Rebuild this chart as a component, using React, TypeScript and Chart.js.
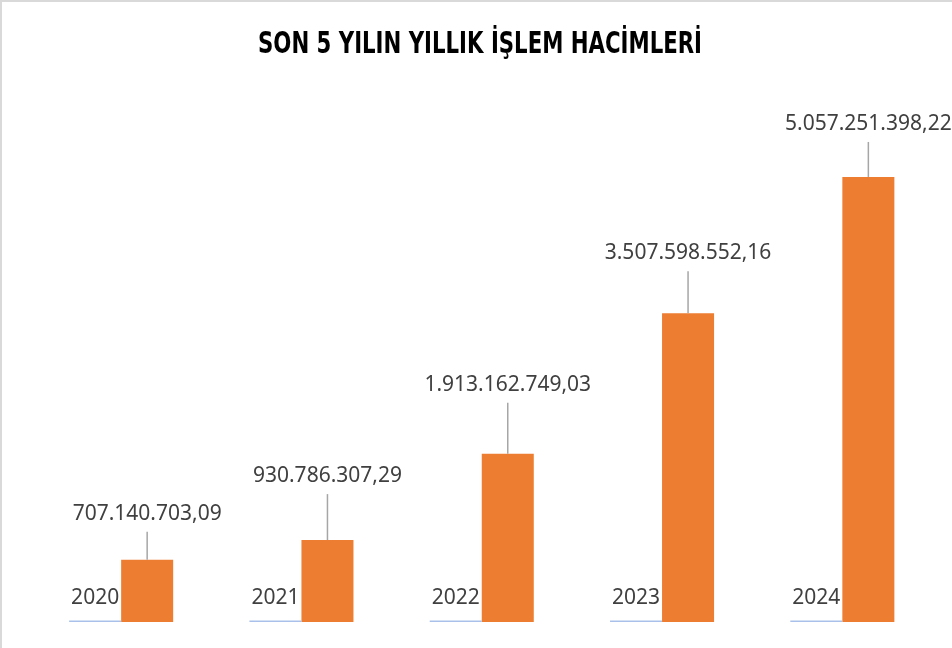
import React, { useEffect, useRef } from "react";
import { Chart, registerables } from "chart.js";

Chart.register(...registerables);

const TITLE = "SON 5 YILIN YILLIK İŞLEM HACİMLERİ";
const years = ["2020", "2021", "2022", "2023", "2024"];
const yearValues = [2020, 2021, 2022, 2023, 2024];
const volumes = [707140703.09, 930786307.29, 1913162749.03, 3507598552.16, 5057251398.22];
// distance (px) of each value label above its bar top
const labelOffsets = [46, 64, 69, 60, 53];

function formatTR(v: number): string {
  const [intPart, dec] = v.toFixed(2).split(".");
  const withDots = intPart.replace(/\B(?=(\d{3})+(?!\d))/g, ".");
  return withDots + "," + dec;
}

const LABEL_FONT = "21px 'Noto Sans', sans-serif";

const labelPlugin = {
  id: "customLabels",
  afterDatasetsDraw(chart: any) {
    const ctx = chart.ctx as CanvasRenderingContext2D;
    ctx.save();
    ctx.font = LABEL_FONT;
    ctx.fillStyle = "#404040";
    ctx.textAlign = "center";
    ctx.textBaseline = "middle";
    const yearMeta = chart.getDatasetMeta(0);
    yearMeta.data.forEach((el: any, i: number) => {
      const base = chart.scales.y.getPixelForValue(0);
      ctx.fillText(years[i], el.x, base - 24);
    });
    const meta = chart.getDatasetMeta(1);
    meta.data.forEach((el: any, i: number) => {
      const top = el.y;
      const ty = top - labelOffsets[i];
      ctx.strokeStyle = "#a6a6a6";
      ctx.lineWidth = 1.5;
      ctx.beginPath();
      ctx.moveTo(el.x, ty + 18);
      ctx.lineTo(el.x, top);
      ctx.stroke();
      ctx.fillText(formatTR(volumes[i]), el.x, ty);
    });
    ctx.restore();
  },
};

const titlePlugin = {
  id: "customTitle",
  afterDraw(chart: any) {
    const ctx = chart.ctx as CanvasRenderingContext2D;
    ctx.save();
    ctx.font = "bold 30px 'Liberation Sans Narrow', 'DejaVu Sans Condensed', sans-serif";
    ctx.fillStyle = "#000000";
    ctx.textAlign = "center";
    ctx.textBaseline = "middle";
    const w = ctx.measureText(TITLE).width;
    const sx = Math.min(1, 444 / w);
    ctx.translate(478, 43);
    ctx.scale(sx, 1);
    ctx.fillText(TITLE, 0, 0);
    ctx.restore();
  },
};

export default function App() {
  const canvasRef = useRef<HTMLCanvasElement | null>(null);
  useEffect(() => {
    if (!canvasRef.current) return;
    const chart = new Chart(canvasRef.current, {
      type: "bar",
      data: {
        labels: years,
        datasets: [
          {
            label: "Yıl",
            data: yearValues,
            backgroundColor: "#a9c1ea",
            minBarLength: 1.5,
            categoryPercentage: 0.577,
            barPercentage: 1,
          },
          {
            label: "İşlem Hacmi",
            data: volumes,
            backgroundColor: "#ed7d31",
            categoryPercentage: 0.577,
            barPercentage: 1,
          },
        ],
      },
      options: {
        animation: false,
        responsive: false,
        maintainAspectRatio: false,
        layout: { padding: { left: 29, right: 19.5, top: 92, bottom: 26 } },
        plugins: {
          legend: { display: false },
          tooltip: { enabled: false },
          title: { display: false },
        },
        scales: {
          x: { display: false, grid: { display: false } },
          y: { display: false, min: 0, max: 6000000000 },
        },
      },
      plugins: [labelPlugin, titlePlugin],
    });
    return () => chart.destroy();
  }, []);
  return (
    <div
      style={{
        position: "fixed",
        left: 0,
        top: 0,
        width: 952,
        height: 648,
        boxSizing: "border-box",
        borderTop: "2px solid #d9d9d9",
        borderLeft: "2px solid #d9d9d9",
        background: "#ffffff",
      }}
    >
      <canvas ref={canvasRef} width={950} height={646} style={{ display: "block" }} />
    </div>
  );
}
